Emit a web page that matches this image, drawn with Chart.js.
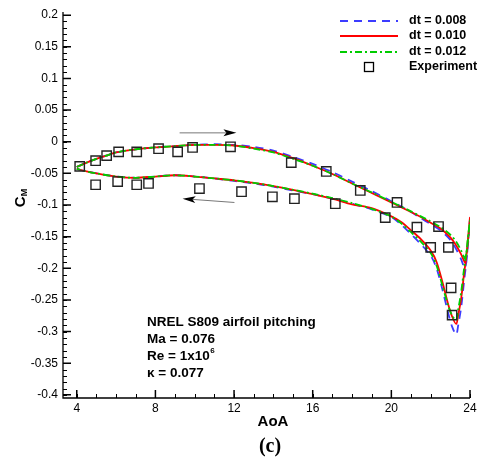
<!DOCTYPE html>
<html><head><meta charset="utf-8">
<script src="https://cdn.jsdelivr.net/npm/chart.js@4.4.0/dist/chart.umd.min.js"></script>
<style>html,body{margin:0;padding:0;background:#fff;}#wrap{width:478px;height:463px;position:relative;}</style>
</head><body><div id="wrap"><canvas id="c" width="478" height="463"></canvas></div>
<script>
// ---- data ----
const aoaPath = [4, 4.5, 5, 5.5, 6, 7, 8, 9, 10, 11, 12, 13, 14, 15, 16, 17, 18, 19, 20, 21, 21.5, 22, 22.5, 23, 23.3, 23.55, 23.75, 23.9, 24,
                 23.85, 23.7, 23.55, 23.4, 23.3, 23.1, 22.9, 22.6, 22.3, 22, 21.5, 21, 20.5, 20, 19, 18, 17, 16, 15, 14, 13, 12, 11, 10, 9, 8, 7, 6, 5, 4.5, 4];
const cmDt008 = [-0.040, -0.033, -0.027, -0.022, -0.017, -0.012, -0.009, -0.007, -0.005, -0.004, -0.005, -0.008, -0.014, -0.024, -0.035, -0.048, -0.063, -0.078, -0.094, -0.111, -0.121, -0.130, -0.140, -0.155, -0.170, -0.186, -0.200, -0.160, -0.122,
                 -0.180, -0.220, -0.262, -0.290, -0.305, -0.293, -0.272, -0.234, -0.200, -0.180, -0.162, -0.146, -0.131, -0.119, -0.107, -0.098, -0.090, -0.083, -0.077, -0.071, -0.066, -0.062, -0.058, -0.055, -0.053, -0.055, -0.057, -0.055, -0.050, -0.047, -0.043];
const cmDt010 = [-0.040, -0.033, -0.027, -0.022, -0.017, -0.012, -0.009, -0.007, -0.005, -0.005, -0.006, -0.010, -0.016, -0.026, -0.038, -0.051, -0.066, -0.081, -0.096, -0.111, -0.119, -0.128, -0.137, -0.151, -0.164, -0.178, -0.190, -0.152, -0.120,
                 -0.172, -0.208, -0.248, -0.274, -0.288, -0.277, -0.258, -0.222, -0.190, -0.172, -0.154, -0.140, -0.127, -0.118, -0.105, -0.099, -0.090, -0.083, -0.076, -0.070, -0.065, -0.061, -0.058, -0.055, -0.053, -0.055, -0.057, -0.055, -0.050, -0.047, -0.043];
const cmDt012 = [-0.040, -0.033, -0.027, -0.022, -0.017, -0.012, -0.009, -0.007, -0.005, -0.005, -0.006, -0.011, -0.017, -0.027, -0.038, -0.051, -0.066, -0.080, -0.095, -0.110, -0.118, -0.126, -0.135, -0.147, -0.158, -0.172, -0.184, -0.150, -0.125,
                 -0.168, -0.200, -0.238, -0.265, -0.282, -0.275, -0.260, -0.228, -0.196, -0.176, -0.158, -0.143, -0.129, -0.118, -0.106, -0.097, -0.089, -0.082, -0.076, -0.070, -0.065, -0.061, -0.058, -0.055, -0.053, -0.055, -0.057, -0.055, -0.050, -0.047, -0.043];
const expAoA = [4.15, 4.96, 5.52, 6.13, 7.05, 8.16, 9.13, 9.89, 11.82, 14.91, 16.69, 18.42, 20.29, 22.4,
                4.96, 6.08, 7.05, 7.65, 10.24, 12.38, 13.95, 15.07, 17.15, 19.69, 21.3, 22.0, 22.9, 23.04, 23.09];
const expCM = [-0.039, -0.030, -0.022, -0.016, -0.016, -0.011, -0.016, -0.009, -0.008, -0.033, -0.047, -0.077, -0.096, -0.134,
               -0.068, -0.063, -0.068, -0.066, -0.074, -0.079, -0.087, -0.090, -0.098, -0.120, -0.135, -0.167, -0.167, -0.231, -0.274];
const seriesLabels = ['dt = 0.008', 'dt = 0.010', 'dt = 0.012', 'Experiment'];
const xTicks = [4, 8, 12, 16, 20, 24];
const xTickLabels = ['4', '8', '12', '16', '20', '24'];
const yTicks = [0.2, 0.15, 0.1, 0.05, 0, -0.05, -0.1, -0.15, -0.2, -0.25, -0.3, -0.35, -0.4];
const yTickLabels = ['0.2', '0.15', '0.1', '0.05', '0', '-0.05', '-0.1', '-0.15', '-0.2', '-0.25', '-0.3', '-0.35', '-0.4'];
const xTitle = 'AoA';
const yTitle = ['C', 'M'];
const caseLines = ['NREL S809 airfoil pitching', 'Ma = 0.076', 'Re = 1x10', '\u03ba = 0.077'];
const caption = '(c)';

// ---- styles ----
const colors = ['#3c3cff', '#ff0000', '#00cc00', '#000000'];
const dashes = [[8, 6], [], [7, 3, 2, 3]];

function pts(xs, ys) { return xs.map((x, i) => ({ x: x, y: ys[i] })); }

const decor = {
  id: 'decor',
  afterDraw(chart) {
    const ctx = chart.ctx, a = chart.chartArea;
    const xs = chart.scales.x, ys = chart.scales.y;
    ctx.save();
    ctx.strokeStyle = '#000';
    ctx.fillStyle = '#000';
    ctx.lineWidth = 1.3;
    // axis lines
    ctx.beginPath();
    ctx.moveTo(a.left, a.top); ctx.lineTo(a.left, a.bottom); ctx.lineTo(a.right, a.bottom);
    ctx.stroke();
    // minor ticks
    ctx.lineWidth = 1;
    ctx.beginPath();
    for (let v = 4; v <= 24; v += 1) { const p = Math.round(xs.getPixelForValue(v)) + 0.5; ctx.moveTo(p, a.bottom); ctx.lineTo(p, a.bottom - 4); }
    for (let k = -40; k <= 20; k += 1) { const p = Math.round(ys.getPixelForValue(k / 100)) + 0.5; ctx.moveTo(a.left, p); ctx.lineTo(a.left + 4, p); }
    ctx.stroke();
    // major ticks
    ctx.lineWidth = 1.5;
    ctx.beginPath();
    xTicks.forEach(v => { const p = xs.getPixelForValue(v); ctx.moveTo(p, a.bottom); ctx.lineTo(p, a.bottom - 8); });
    yTicks.forEach(v => { const p = ys.getPixelForValue(v); ctx.moveTo(a.left, p); ctx.lineTo(a.left + 8, p); });
    ctx.stroke();
    // tick labels
    ctx.font = '12px "Liberation Sans", Arial, sans-serif';
    ctx.textAlign = 'center'; ctx.textBaseline = 'middle';
    xTicks.forEach((v, i) => ctx.fillText(xTickLabels[i], xs.getPixelForValue(v), a.bottom + 11));
    ctx.textAlign = 'right';
    yTicks.forEach((v, i) => ctx.fillText(yTickLabels[i], a.left - 5, ys.getPixelForValue(v)));
    // axis titles
    ctx.font = 'bold 15px "Liberation Sans", Arial, sans-serif';
    ctx.textAlign = 'center';
    ctx.fillText(xTitle, 273, 422);
    ctx.save();
    ctx.translate(21, 198); ctx.rotate(-Math.PI / 2);
    ctx.textAlign = 'left'; ctx.textBaseline = 'middle';
    ctx.font = 'bold 15px "Liberation Sans", Arial, sans-serif';
    const cw = ctx.measureText(yTitle[0]).width;
    const mfont = 'bold 9px "Liberation Sans", Arial, sans-serif';
    ctx.font = mfont; const mw = ctx.measureText(yTitle[1]).width;
    const x0 = -(cw + mw) / 2;
    ctx.font = 'bold 15px "Liberation Sans", Arial, sans-serif';
    ctx.fillText(yTitle[0], x0, 0);
    ctx.font = mfont; ctx.fillText(yTitle[1], x0 + cw, 4);
    ctx.restore();
    // caption
    ctx.font = 'bold 20px "Liberation Serif", "DejaVu Serif", serif';
    ctx.textAlign = 'center';
    ctx.fillText(caption, 270, 447);
    // legend
    const ly = [21, 36, 52, 67];
    ctx.textAlign = 'left'; ctx.textBaseline = 'middle';
    ctx.font = 'bold 12.5px "Liberation Sans", Arial, sans-serif';
    for (let i = 0; i < 3; i++) {
      ctx.save();
      ctx.strokeStyle = colors[i]; ctx.lineWidth = 1.8; ctx.setLineDash(dashes[i]);
      ctx.beginPath(); ctx.moveTo(340, ly[i]); ctx.lineTo(398, ly[i]); ctx.stroke();
      ctx.restore();
      ctx.fillText(seriesLabels[i], 409, ly[i]);
    }
    ctx.lineWidth = 1.3;
    ctx.strokeRect(364.5, ly[3] - 4.5, 9, 9);
    ctx.fillText(seriesLabels[3], 409, ly[3]);
    // arrows (in data coordinates)
    function arrow(x1, y1, x2, y2) {
      const p1x = xs.getPixelForValue(x1), p1y = ys.getPixelForValue(y1);
      const p2x = xs.getPixelForValue(x2), p2y = ys.getPixelForValue(y2);
      const ang = Math.atan2(p2y - p1y, p2x - p1x);
      ctx.strokeStyle = '#777'; ctx.lineWidth = 1;
      ctx.beginPath(); ctx.moveTo(p1x, p1y); ctx.lineTo(p2x - 10 * Math.cos(ang), p2y - 10 * Math.sin(ang)); ctx.stroke();
      ctx.fillStyle = '#000';
      ctx.beginPath();
      ctx.moveTo(p2x, p2y);
      ctx.lineTo(p2x - 13 * Math.cos(ang) + 3.5 * Math.sin(ang), p2y - 13 * Math.sin(ang) - 3.5 * Math.cos(ang));
      ctx.lineTo(p2x - 10 * Math.cos(ang), p2y - 10 * Math.sin(ang));
      ctx.lineTo(p2x - 13 * Math.cos(ang) - 3.5 * Math.sin(ang), p2y - 13 * Math.sin(ang) + 3.5 * Math.cos(ang));
      ctx.closePath(); ctx.fill();
    }
    arrow(9.23, 0.014, 12.12, 0.014);
    arrow(12.02, -0.096, 9.38, -0.090);
    // case annotation
    ctx.fillStyle = '#000';
    ctx.textAlign = 'left'; ctx.textBaseline = 'middle';
    ctx.font = 'bold 13.5px "Liberation Sans", Arial, sans-serif';
    const ty = [322, 339, 356, 373];
    caseLines.forEach((t, i) => ctx.fillText(t, 147, ty[i]));
    const rw = ctx.measureText(caseLines[2]).width;
    ctx.font = 'bold 8px "Liberation Sans", Arial, sans-serif';
    ctx.fillText('6', 147 + rw + 0.5, ty[2] - 5);
    ctx.restore();
  }
};

new Chart(document.getElementById('c'), {
  type: 'scatter',
  data: {
    datasets: [
      { label: seriesLabels[0], data: pts(aoaPath, cmDt008), showLine: true, borderColor: colors[0], borderWidth: 1.8, borderDash: dashes[0], pointRadius: 0, tension: 0.3, order: 3 },
      { label: seriesLabels[1], data: pts(aoaPath, cmDt010), showLine: true, borderColor: colors[1], borderWidth: 1.8, pointRadius: 0, tension: 0.3, order: 2 },
      { label: seriesLabels[2], data: pts(aoaPath, cmDt012), showLine: true, borderColor: colors[2], borderWidth: 1.8, borderDash: dashes[2], pointRadius: 0, tension: 0.3, order: 1 },
      { label: seriesLabels[3], data: pts(expAoA, expCM), showLine: false, borderColor: '#222', backgroundColor: 'rgba(0,0,0,0)', borderWidth: 1.4, pointStyle: 'rect', pointRadius: 6.6, order: 0 }
    ]
  },
  options: {
    responsive: false, animation: false, devicePixelRatio: 1,
    layout: { padding: { left: 63, right: 7, top: 12, bottom: 65 } },
    scales: {
      x: { type: 'linear', min: 3.3, max: 24, display: false },
      y: { type: 'linear', min: -0.405, max: 0.205, display: false }
    },
    plugins: { legend: { display: false }, tooltip: { enabled: false } }
  },
  plugins: [decor]
});
</script>
</body></html>
